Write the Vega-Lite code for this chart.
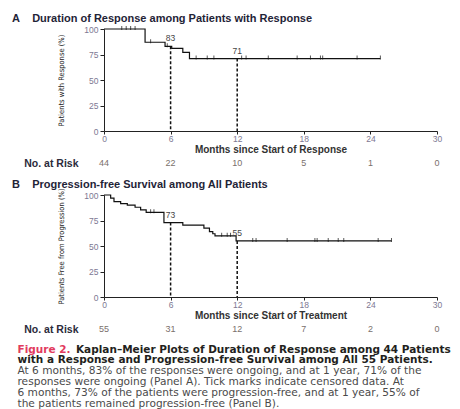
{
  "$schema": "https://vega.github.io/schema/vega-lite/v6.json",
  "background": "white",
  "padding": {"left": 12, "top": 13, "right": 0, "bottom": 0},
  "bounds": "flush",
  "spacing": 20,
  "datasets": {
    "curveA": [{"m":0,"s":100},{"m":3.7,"s":87},{"m":5.5,"s":83},{"m":6.1,"s":81},{"m":7.1,"s":77},{"m":7.7,"s":71},{"m":24.9,"s":71}],
    "censorA": [{"m":1.6,"s":100},{"m":2.0,"s":100},{"m":2.4,"s":100},{"m":2.8,"s":100},{"m":4.2,"s":87},{"m":5.7,"s":83},{"m":8.3,"s":71},{"m":9.3,"s":71},{"m":9.9,"s":71},{"m":12.4,"s":71},{"m":12.8,"s":71},{"m":14.8,"s":71},{"m":17.4,"s":71},{"m":18.6,"s":71},{"m":19.5,"s":71},{"m":19.7,"s":71},{"m":22.8,"s":71},{"m":24.9,"s":71}],
    "refA": [{"m":6,"s":83,"label":"83"},{"m":12,"s":71,"label":"71"}],
    "riskA": [{"row":"No. at Risk","m":0,"n":44},{"row":"No. at Risk","m":6,"n":22},{"row":"No. at Risk","m":12,"n":10},{"row":"No. at Risk","m":18,"n":5},{"row":"No. at Risk","m":24,"n":1},{"row":"No. at Risk","m":30,"n":0}],
    "curveB": [{"m":0,"s":100},{"m":0.6,"s":97},{"m":0.9,"s":93.5},{"m":1.5,"s":91.5},{"m":2.1,"s":90},{"m":2.8,"s":88},{"m":3.3,"s":85.5},{"m":3.8,"s":83},{"m":5.4,"s":73},{"m":7.1,"s":70.5},{"m":9.0,"s":67.5},{"m":9.5,"s":64},{"m":9.8,"s":62},{"m":10.0,"s":60},{"m":11.9,"s":55},{"m":25.9,"s":55}],
    "censorB": [{"m":4.2,"s":83},{"m":4.5,"s":83},{"m":10.6,"s":60},{"m":11.1,"s":60},{"m":11.4,"s":60},{"m":13.4,"s":55},{"m":13.7,"s":55},{"m":16.5,"s":55},{"m":19.0,"s":55},{"m":19.2,"s":55},{"m":20.2,"s":55},{"m":21.1,"s":55},{"m":21.6,"s":55},{"m":24.7,"s":55},{"m":25.9,"s":55}],
    "refB": [{"m":6,"s":73,"label":"73"},{"m":12,"s":55,"label":"55"}],
    "riskB": [{"row":"No. at Risk","m":0,"n":55},{"row":"No. at Risk","m":6,"n":31},{"row":"No. at Risk","m":12,"n":12},{"row":"No. at Risk","m":18,"n":7},{"row":"No. at Risk","m":24,"n":2},{"row":"No. at Risk","m":30,"n":0}],
    "caption": [
      {"line":1,"text":"\u200b\u00a0\u00a0\u00a0\u00a0\u00a0\u00a0\u00a0\u00a0\u00a0\u00a0\u00a0\u00a0\u00a0\u00a0\u00a0\u00a0Kaplan\u2013Meier Plots of Duration of Response among 44 Patients"},
      {"line":2,"text":"with a Response and Progression-free Survival among All 55 Patients."},
      {"line":3,"text":"At 6 months, 83% of the responses were ongoing, and at 1 year, 71% of the"},
      {"line":4,"text":"responses were ongoing (Panel A). Tick marks indicate censored data. At"},
      {"line":5,"text":"6 months, 73% of the patients were progression-free, and at 1 year, 55% of"},
      {"line":6,"text":"the patients remained progression-free (Panel B)."}
    ]
  },
  "vconcat": [
    {
      "width": 333, "height": 102,
      "title": {"text": "A\u00a0\u00a0\u00a0\u00a0Duration of Response among Patients with Response", "anchor": "start", "frame": "group", "dx": -92, "offset": -10, "baseline": "bottom", "fontSize": 11, "fontWeight": "bold", "color": "#1f2437"},
      "encoding": {
        "x": {"field": "m", "type": "quantitative", "scale": {"domain": [0, 30], "nice": false, "zero": false},
              "axis": {"values": [0, 6, 12, 18, 24, 30], "title": "Months since Start of Response", "labelFlush": false, "tickSize": 3, "labelPadding": 0, "titlePadding": 2}},
        "y": {"field": "s", "type": "quantitative", "scale": {"domain": [0, 100], "nice": false},
              "axis": {"values": [0, 25, 50, 75, 100], "labelOverlap": false, "title": "Patients with Response (%)", "tickSize": 4, "labelPadding": 2, "titlePadding": 18}}
      },
      "layer": [
        {"data": {"name": "refA"}, "mark": {"type": "rule", "strokeDash": [3, 2], "strokeWidth": 1.5, "color": "#111"},
         "encoding": {"y2": {"datum": 0}}},
        {"data": {"name": "curveA"}, "mark": {"type": "line", "interpolate": "step-after", "color": "#111", "strokeWidth": 1.2}},
        {"data": {"name": "censorA"}, "mark": {"type": "tick", "orient": "vertical", "size": 4, "thickness": 1, "color": "#111", "yOffset": -1}},
        {"data": {"name": "refA"}, "mark": {"type": "text", "dy": -8, "fontSize": 8.5, "color": "#444"},
         "encoding": {"text": {"field": "label"}}}
      ]
    },
    {
      "width": 333, "height": 24,
      "data": {"name": "riskA"},
      "mark": {"type": "text", "fontSize": 9, "color": "#7a706c"},
      "encoding": {
        "x": {"field": "m", "type": "quantitative", "scale": {"domain": [0, 30], "nice": false}, "axis": null},
        "y": {"field": "row", "type": "nominal", "scale": {"type": "point", "padding": 0, "align": 0.5},
              "axis": {"title": null, "domain": false, "ticks": false, "tickSize": 0, "labelPadding": 26, "labelFontWeight": "bold", "labelFontSize": 10.5, "labelColor": "#2b2b3b"}},
        "text": {"field": "n"}
      }
    },
    {
      "width": 333, "height": 102,
      "title": {"text": "B\u00a0\u00a0\u00a0\u00a0Progression-free Survival among All Patients", "anchor": "start", "frame": "group", "dx": -92, "offset": -13, "baseline": "bottom", "fontSize": 11, "fontWeight": "bold", "color": "#1f2437"},
      "encoding": {
        "x": {"field": "m", "type": "quantitative", "scale": {"domain": [0, 30], "nice": false, "zero": false},
              "axis": {"values": [0, 6, 12, 18, 24, 30], "title": "Months since Start of Treatment", "labelFlush": false, "tickSize": 3, "labelPadding": 0, "titlePadding": 2}},
        "y": {"field": "s", "type": "quantitative", "scale": {"domain": [0, 100], "nice": false},
              "axis": {"values": [0, 25, 50, 75, 100], "labelOverlap": false, "title": "Patients Free from Progression (%)", "tickSize": 4, "labelPadding": 2, "titlePadding": 18}}
      },
      "layer": [
        {"data": {"name": "refB"}, "mark": {"type": "rule", "strokeDash": [3, 2], "strokeWidth": 1.5, "color": "#111"},
         "encoding": {"y2": {"datum": 0}}},
        {"data": {"name": "curveB"}, "mark": {"type": "line", "interpolate": "step-after", "color": "#111", "strokeWidth": 1.2}},
        {"data": {"name": "censorB"}, "mark": {"type": "tick", "orient": "vertical", "size": 4, "thickness": 1, "color": "#111", "yOffset": -1}},
        {"data": {"name": "refB"}, "mark": {"type": "text", "dy": -8, "fontSize": 8.5, "color": "#444"},
         "encoding": {"text": {"field": "label"}}}
      ]
    },
    {
      "width": 333, "height": 12,
      "data": {"name": "riskB"},
      "mark": {"type": "text", "fontSize": 9, "color": "#7a706c"},
      "encoding": {
        "x": {"field": "m", "type": "quantitative", "scale": {"domain": [0, 30], "nice": false}, "axis": null},
        "y": {"field": "row", "type": "nominal", "scale": {"type": "point", "padding": 0, "align": 1},
              "axis": {"title": null, "domain": false, "ticks": false, "tickSize": 0, "labelPadding": 26, "labelFontWeight": "bold", "labelFontSize": 10.5, "labelColor": "#2b2b3b"}},
        "text": {"field": "n"}
      }
    },
    {
      "width": 333, "height": 54,
      "data": {"name": "caption"},
      "mark": {"type": "point", "opacity": 0},
      "encoding": {
        "y": {"field": "text", "type": "nominal", "sort": null, "scale": {"type": "point", "padding": 0},
              "axis": {"title": "Figure 2.", "titleAngle": 0, "titleAlign": "left", "titleBaseline": "middle", "titleX": -87, "titleY": 0,
                       "titleColor": "#e23b5e", "titleFontWeight": "bold", "titleFont": "DejaVu Sans", "titleFontSize": 10.5, "titlePadding": 0,
                       "labelAlign": "left", "labelBaseline": "middle", "labelPadding": 87, "labelLimit": 0, "labelOverlap": false, "domain": false, "ticks": false, "tickSize": 0,
                       "labelFont": "DejaVu Sans",
                       "labelFontSize": {"condition": {"test": "datum.index < 0.3", "value": 10.5}, "value": 10.6},
                       "labelFontWeight": {"condition": {"test": "datum.index < 0.3", "value": "bold"}, "value": "normal"},
                       "labelColor": {"condition": {"test": "datum.index < 0.3", "value": "#231f20"}, "value": "#4a4a4a"}}}
      }
    }
  ],
  "config": {
    "view": {"stroke": null},
    "font": "Liberation Sans",
    "axis": {"grid": false, "domainColor": "#222", "tickColor": "#222", "labelColor": "#7d7892", "labelFontSize": 8.5,
             "titleFontSize": 10, "titleFontWeight": "bold", "titleColor": "#333"},
    "axisY": {"titleFontSize": 7.5, "titleFontWeight": "normal", "titleColor": "#222", "titleFont": "Liberation Sans Narrow, DejaVu Sans Condensed, Liberation Sans"}
  }
}
